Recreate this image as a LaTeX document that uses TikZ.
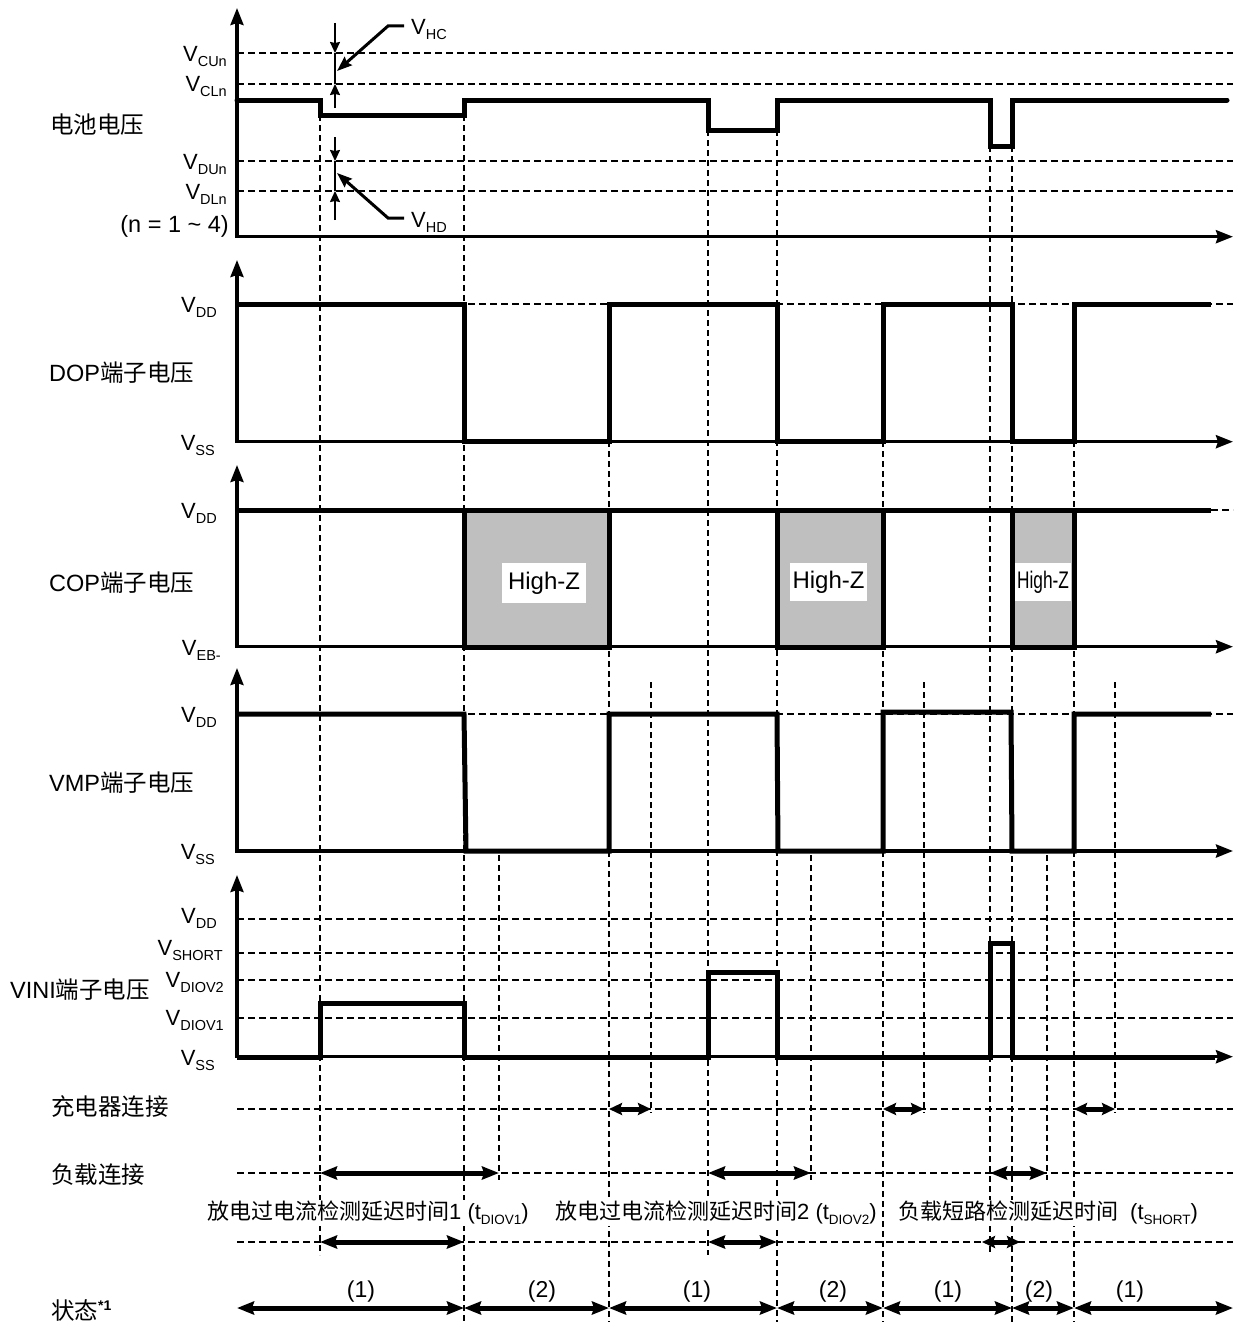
\documentclass[tikz,border=0pt]{standalone}
\usepackage{fontspec}
\setmainfont{Liberation Sans}
\newfontfamily\cjk{Noto Sans CJK SC}
\usetikzlibrary{arrows.meta}
\newcommand\sbs[1]{\raisebox{-5pt}{\fontsize{14.5}{15}\selectfont #1}}
\newcommand\dsbs[1]{\raisebox{-5pt}{\fontsize{13.5}{14}\selectfont #1}}
\begin{document}
\begin{tikzpicture}[x=1pt,y=-1pt,
  sig/.style={line width=5pt},
  ax/.style={line width=3.4pt,-{Stealth[length=17pt,width=13pt,inset=2pt]}},
  hd/.style={line width=1.8pt,dash pattern=on 7pt off 4pt},
  vd/.style={line width=1.8pt,dash pattern=on 6pt off 4pt},
  lbl/.style={font=\fontsize{23.5}{27}\selectfont, inner sep=0pt},
  dtxt/.style={font=\fontsize{22}{26}\selectfont, inner sep=1.5pt, fill=white},
  stxt/.style={font=\fontsize{23}{27}\selectfont, inner sep=0pt},
  vl/.style={font=\fontsize{22}{26}\selectfont, inner sep=0pt, anchor=base east},
  dbl/.style={line width=5pt,{Stealth[length=17pt,width=13pt,inset=2pt]}-{Stealth[length=17pt,width=13pt,inset=2pt]}},
  sdbl/.style={line width=5pt,{Stealth[length=13pt,width=12pt,inset=2pt]}-{Stealth[length=13pt,width=12pt,inset=2pt]}},
  tarr/.style={line width=1.5pt,-{Stealth[length=11pt,width=10pt,inset=1pt]}},
  lead/.style={line width=3pt,-{Stealth[length=15pt,width=11pt,inset=2pt]}},
  hz/.style={fill=white, inner sep=0pt, font=\fontsize{24}{28}\selectfont},
]
\useasboundingbox (0,0) rectangle (1240,1322);

% ---------- horizontal dashed guide lines ----------
\foreach \yy in {53,84,161,191,304,714,919,952.7,980,1018,1109,1173,1242}
  \draw[hd] (237,\yy) -- (1233,\yy);
\draw[hd] (1200,510) -- (1233,510);

% ---------- vertical dashed guide lines ----------
\draw[vd] (320,115) -- (320,1255);
\draw[vd] (464,115) -- (464,1322);
\draw[vd] (609,441) -- (609,1322);
\draw[vd] (708,130) -- (708,1255);
\draw[vd] (777,130) -- (777,1322);
\draw[vd] (883,441) -- (883,1322);
\draw[vd] (990,146) -- (990,1255);
\draw[vd] (1012,146) -- (1012,1322);
\draw[vd] (1074,441) -- (1074,1322);
\foreach \xx in {651,924,1115}
  \draw[vd] (\xx,682) -- (\xx,1113);
\foreach \xx in {499,811,1047}
  \draw[vd] (\xx,855) -- (\xx,1180);

% ---------- High-Z areas ----------
\foreach \a/\b in {464/609,777/883,1012/1074}
  \fill[black!25] (\a,510) rectangle (\b,647);
\foreach \a/\b in {464/609,777/883,1012/1074}
  \draw[sig] (\a,510) -- (\a,647) -- (\b,647) -- (\b,510);
\node[hz, minimum width=84pt, minimum height=40pt] (hz1) at (544,583) {High-Z};
\node[hz, minimum width=77pt, minimum height=38pt] (hz2) at (828.5,582) {High-Z};
\node[hz, minimum width=56pt, minimum height=38pt] (hz3) at (1043,582) {\scalebox{0.72}[1]{High-Z}};

% ---------- signals ----------
\draw[sig, line cap=round] (237,100) -- (320,100) -- (320,115) -- (464,115) -- (464,100)
  -- (708,100) -- (708,130) -- (777,130) -- (777,100) -- (990,100) -- (990,146)
  -- (1012,146) -- (1012,100) -- (1227,100);
\draw[sig] (237,304) -- (464,304) -- (464,441) -- (609,441) -- (609,304) -- (777,304)
  -- (777,441) -- (883,441) -- (883,304) -- (1012,304) -- (1012,441) -- (1074,441)
  -- (1074,304) -- (1211,304);
\draw[sig] (237,510) -- (1211,510);
\draw[sig] (237,714) -- (464,714) -- (466,851) -- (609,851) -- (609,714) -- (777,714)
  -- (778,851) -- (883,851) -- (883,712) -- (1011,712) -- (1012,851) -- (1074,851)
  -- (1074,714) -- (1211,714);
\draw[sig] (237,1057) -- (320,1057) -- (320,1003) -- (464,1003) -- (464,1057) -- (708,1057)
  -- (708,972) -- (777,972) -- (777,1057) -- (990,1057) -- (990,943) -- (1012,943)
  -- (1012,1057) -- (1215,1057);

% ---------- axes ----------
\foreach \yb/\yt in {236.7/8,441.7/260,646.7/465,851/668,1056.7/875}{
  \draw[ax] (237,\yb) -- (237,\yt);
  \draw[ax] (235.3,\yb) -- (1233,\yb);
}

% ---------- hysteresis markers ----------
\draw[line width=1.5pt] (335,53) -- (335,84);
\draw[tarr] (335,23) -- (335,53);
\draw[tarr] (335,108) -- (335,84);
\draw[line width=1.5pt] (335,161) -- (335,191);
\draw[tarr] (335,137) -- (335,161);
\draw[tarr] (335,220) -- (335,191);
\draw[lead] (404,26) -- (388,26) -- (337,71);
\draw[lead] (404,218) -- (388,218) -- (337,173);
\node[vl, anchor=base west] (vhc) at (411,35) {V\sbs{HC}};
\node[vl, anchor=base west] (vhd) at (411,227) {V\sbs{HD}};

% ---------- axis labels ----------
\node[vl] (cun) at (227,62) {V\sbs{CUn}};
\node[vl] (cln) at (227,92) {V\sbs{CLn}};
\node[vl] (dun) at (227,169) {V\sbs{DUn}};
\node[vl] (dln) at (227,199) {V\sbs{DLn}};
\node[lbl, anchor=east] (nrange) at (229,226) {(n = 1 \textasciitilde{} 4)};
\node[lbl, anchor=west] (batt) at (50,125) {\cjk 电池电压};

\node[vl] (dopdd) at (217,312) {V\sbs{DD}};
\node[vl] (dopss) at (215,450) {V\sbs{SS}};
\node[lbl, anchor=west] (dop) at (49,373) {DOP{\cjk 端子电压}};

\node[vl] (copdd) at (217,518) {V\sbs{DD}};
\node[vl] (copeb) at (221,655) {V\sbs{EB-}};
\node[lbl, anchor=west] (cop) at (49,583) {COP{\cjk 端子电压}};

\node[vl] (vmpdd) at (217,722) {V\sbs{DD}};
\node[vl] (vmpss) at (215,859) {V\sbs{SS}};
\node[lbl, anchor=west] (vmp) at (49,783) {VMP{\cjk 端子电压}};

\node[vl] (vinidd) at (217,923) {V\sbs{DD}};
\node[vl] (vinish) at (223,955) {V\sbs{SHORT}};
\node[vl] (vinid2) at (224,987) {V\sbs{DIOV2}};
\node[vl] (vinid1) at (224,1025) {V\sbs{DIOV1}};
\node[vl] (viniss) at (215,1065) {V\sbs{SS}};
\node[lbl, anchor=west] (vini) at (10,990) {VINI{\cjk 端子电压}};

\node[lbl, anchor=west] (chg) at (51,1107) {\cjk 充电器连接};
\node[lbl, anchor=west] (load) at (51,1175) {\cjk 负载连接};
\node[lbl, anchor=west] (state) at (51,1310) {{\cjk 状态}\raisebox{9pt}{\fontsize{14}{14}\selectfont\bfseries *1}};

% ---------- connection / delay / state arrows ----------
\draw[sdbl] (609,1109) -- (651,1109);
\draw[sdbl] (883,1109) -- (924,1109);
\draw[sdbl] (1074,1109) -- (1115,1109);
\draw[dbl] (320,1173) -- (499,1173);
\draw[dbl] (708,1173) -- (811,1173);
\draw[dbl] (990,1173) -- (1047,1173);
\draw[dbl] (320,1242) -- (464,1242);
\draw[dbl] (708,1242) -- (777,1242);
\draw[sdbl] (982,1242) -- (1020,1242);

\node[dtxt] (d1) at (368,1213) {{\cjk 放电过电流检测延迟时间}1 (t\dsbs{DIOV1})};
\node[dtxt] (d2) at (716,1213) {{\cjk 放电过电流检测延迟时间}2 (t\dsbs{DIOV2})};
\node[dtxt] (d3) at (1048,1213) {{\cjk 负载短路检测延迟时间}\ \ (t\dsbs{SHORT})};

\foreach \a/\b in {237/464,464/609,609/777,777/883,883/1012,1012/1074,1074/1233}
  \draw[dbl] (\a,1308) -- (\b,1308);
\foreach \xx/\t in {361/1,542/2,697/1,833/2,948/1,1039/2,1130/1}
  \node[stxt] at (\xx,1292) {(\t)};
\end{tikzpicture}
\end{document}
